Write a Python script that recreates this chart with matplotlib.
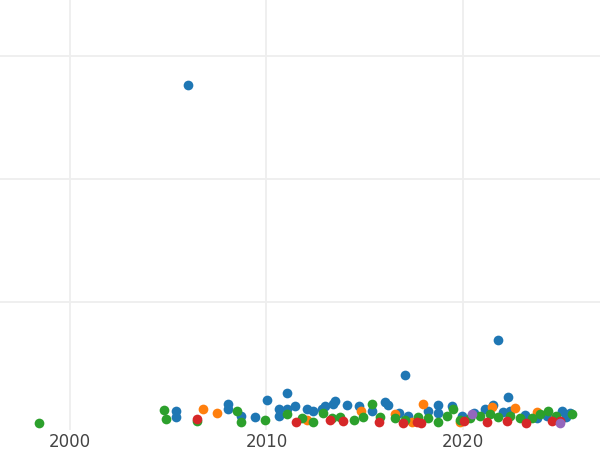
import matplotlib.pyplot as plt

blue_x = [2005.40, 2005.40, 2008.04, 2008.04, 2008.7, 2009.42, 2010.64, 2010.64, 2011.05, 2011.05,
          2011.45, 2012.06, 2012.37, 2012.83, 2012.98, 2013.39, 2013.49, 2014.1, 2014.71, 2015.37,
          2016.03, 2016.19, 2016.75, 2017.2, 2018.22, 2018.73, 2018.73, 2019.44, 2019.95, 2020.56,
          2021.12, 2021.53, 2022.04, 2022.39, 2023.16, 2023.77, 2024.28, 2025.04, 2025.24, 2025.45,
          2006.01, 2021.78, 2017.05, 2010.03, 2022.29]
blue_y = [11.4, 6.5, 17.1, 13.0, 7.3, 6.5, 13.0, 7.3, 13.0, 26.0,
          15.4, 13.0, 11.4, 13.0, 15.4, 17.1, 19.5, 16.3, 15.4, 11.4,
          18.7, 16.3, 9.8, 7.3, 11.4, 16.3, 9.8, 15.4, 7.3, 9.8,
          13.0, 16.3, 10.6, 11.4, 8.1, 5.7, 7.3, 11.4, 6.5, 9.8,
          276.4, 69.1, 40.7, 20.3, 22.8]

orange_x = [2006.77, 2007.48, 2012.06, 2014.81, 2016.54, 2017.97, 2017.41, 2019.85, 2021.48, 2022.65, 2023.77, 2024.68]
orange_y = [13.0, 9.8, 4.1, 11.4, 8.9, 17.1, 2.4, 2.4, 14.6, 13.8, 10.6, 5.7]

green_x = [1998.42, 2004.79, 2004.89, 2006.47, 2008.5, 2008.7, 2009.93, 2011.05, 2011.81, 2012.37,
           2012.88, 2013.34, 2013.74, 2014.46, 2014.91, 2015.37, 2015.78, 2016.54, 2017.05, 2017.71,
           2018.22, 2018.73, 2019.19, 2019.49, 2019.85, 2020.36, 2020.87, 2021.38, 2021.78, 2022.39,
           2022.9, 2023.51, 2023.92, 2024.33, 2024.73, 2025.55]
green_y = [1.6, 12.2, 4.9, 3.3, 11.4, 2.4, 4.1, 8.9, 5.7, 2.4,
           9.8, 5.7, 6.5, 4.1, 6.5, 17.1, 6.5, 5.7, 4.1, 6.5,
           5.7, 2.4, 7.3, 13.0, 4.1, 5.7, 7.3, 8.9, 6.5, 7.3,
           5.7, 5.7, 8.9, 11.4, 7.3, 8.9]

red_x = [2006.47, 2011.5, 2013.23, 2013.9, 2015.73, 2016.95, 2017.66, 2017.87, 2020.05, 2021.22,
         2022.24, 2023.21, 2024.53, 2024.94]
red_y = [4.9, 2.4, 4.1, 3.3, 2.4, 1.6, 2.4, 1.6, 3.3, 2.4, 3.3, 1.6, 3.3, 3.3]

purple_x = [2020.46, 2024.94]
purple_y = [8.9, 1.6]

series = [
    (blue_x, blue_y, "#1f77b4"),
    (orange_x, orange_y, "#ff7f0e"),
    (green_x, green_y, "#2ca02c"),
    (red_x, red_y, "#d62728"),
    (purple_x, purple_y, "#9467bd"),
]

fig = plt.figure(figsize=(6, 4.5), dpi=100)
ax = fig.add_axes([0, 20 / 450, 1, 430 / 450])

for xs, ys, color in series:
    ax.plot(xs, ys, "o", color=color, markersize=7, markeredgewidth=0)

ax.set_xlim(1996.44, 2026.97)
ax.set_ylim(-4.1, 345.5)
ax.set_xticks([2000, 2010, 2020])
ax.set_yticks([100, 200, 300])
ax.set_yticklabels([])
ax.tick_params(axis="x", length=0, pad=2, labelsize=12, labelcolor="#444444")
ax.tick_params(axis="y", length=0)
ax.grid(True, color="#eeeeee", linewidth=1.3)
ax.set_axisbelow(True)
for s in ax.spines.values():
    s.set_visible(False)

fig.savefig("out.png", dpi=100)
